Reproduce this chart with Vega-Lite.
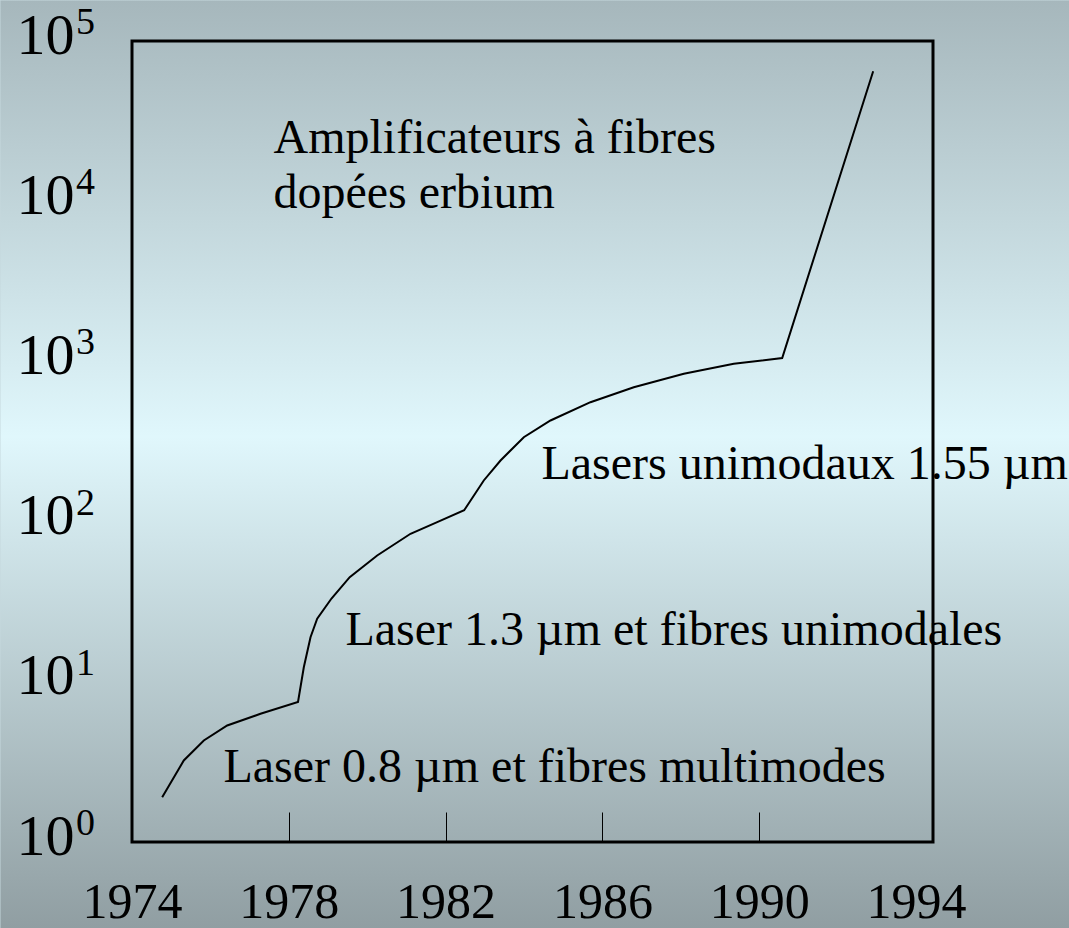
{
  "$schema": "https://vega.github.io/schema/vega-lite/v6.json",
  "width": 801,
  "height": 801,
  "padding": 0,
  "autosize": {"type": "pad"},
  "background": "#c5d8dd",
  "config": {"font": "Liberation Serif", "view": {"stroke": null}},
  "datasets": {
    "curve": [
      {"year": 1974.770, "value": 1.904},
      {"year": 1975.321, "value": 3.227},
      {"year": 1975.832, "value": 4.302},
      {"year": 1976.429, "value": 5.336},
      {"year": 1977.278, "value": 6.314},
      {"year": 1978.235, "value": 7.480},
      {"year": 1978.383, "value": 12.33},
      {"year": 1978.554, "value": 18.98},
      {"year": 1978.724, "value": 24.74},
      {"year": 1979.089, "value": 33.11},
      {"year": 1979.554, "value": 44.98},
      {"year": 1980.255, "value": 61.42},
      {"year": 1981.105, "value": 83.94},
      {"year": 1981.786, "value": 99.15},
      {"year": 1982.474, "value": 117.8},
      {"year": 1982.974, "value": 180.6},
      {"year": 1983.401, "value": 240.6},
      {"year": 1983.995, "value": 336.4},
      {"year": 1984.676, "value": 427.7},
      {"year": 1985.696, "value": 556.3},
      {"year": 1986.801, "value": 690.2},
      {"year": 1988.077, "value": 836.9},
      {"year": 1989.352, "value": 966.1},
      {"year": 1990.587, "value": 1050},
      {"year": 1992.908, "value": 64800}
    ],
    "labels": [
      {"year": 1977.610, "value": 19855, "text": "Amplificateurs à fibres"},
      {"year": 1977.610, "value": 9005, "text": "dopées erbium"},
      {"year": 1984.446, "value": 183.2, "text": "Lasers unimodaux 1.55 µm"},
      {"year": 1979.446, "value": 16.85, "text": "Laser 1.3 µm et fibres unimodales"},
      {"year": 1976.334, "value": 2.352, "text": "Laser 0.8 µm et fibres multimodes"}
    ],
    "exponents": [
      {"value": 1, "sup": "0"},
      {"value": 10, "sup": "1"},
      {"value": 100, "sup": "2"},
      {"value": 1000, "sup": "3"},
      {"value": 10000, "sup": "4"},
      {"value": 100000, "sup": "5"}
    ]
  },
  "layer": [
    {
      "data": {"values": [{}]},
      "mark": {
        "type": "rect",
        "clip": false,
        "strokeWidth": 0,
        "fill": {
          "gradient": "linear", "x1": 0, "y1": 0, "x2": 0, "y2": 1,
          "stops": [
            {"offset": 0, "color": "#a6b7bc"},
            {"offset": 0.47, "color": "#e0f7fc"},
            {"offset": 1, "color": "#909ea2"}
          ]
        }
      },
      "encoding": {
        "x": {"datum": 1970.645, "type": "quantitative", "scale": {"domain": [1974, 1994.434], "nice": false, "zero": false}},
        "x2": {"datum": 1997.916},
        "y": {"datum": 178950, "type": "quantitative", "scale": {"type": "log", "domain": [1, 100000], "nice": false}},
        "y2": {"datum": 0.2884}
      }
    },
    {
      "data": {"name": "curve"},
      "mark": {"type": "line", "color": "black", "strokeWidth": 2},
      "encoding": {
        "x": {
          "field": "year", "type": "quantitative",
          "scale": {"domain": [1974, 1994.434], "nice": false, "zero": false},
          "axis": {
            "zindex": 1,
            "title": null,
            "values": [1974, 1978, 1982, 1986, 1990, 1994],
            "format": "d",
            "domain": false,
            "grid": false,
            "tickSize": -30,
            "tickWidth": 1,
            "tickColor": {"condition": {"test": "datum.value == 1974 || datum.value == 1994", "value": "transparent"}, "value": "black"},
            "labelFontSize": 50,
            "labelFont": "Liberation Serif",
            "labelColor": "black",
            "labelPadding": 65,
            "labelFlush": false,
            "labelOverlap": false
          }
        },
        "y": {
          "field": "value", "type": "quantitative",
          "scale": {"type": "log", "domain": [1, 100000], "nice": false},
          "axis": {
            "zindex": 1,
            "title": null,
            "values": [1, 10, 100, 1000, 10000, 100000],
            "labelExpr": "'10'",
            "domain": false,
            "ticks": false,
            "grid": false,
            "labelFontSize": 58,
            "labelFont": "Liberation Serif",
            "labelColor": "black",
            "labelPadding": 58,
            "labelOffset": -5,
            "labelFlush": false,
            "labelOverlap": false
          }
        }
      }
    },
    {
      "data": {"name": "exponents"},
      "mark": {"type": "text", "align": "left", "baseline": "alphabetic", "fontSize": 38, "font": "Liberation Serif", "color": "black", "dx": -56, "dy": -7},
      "encoding": {
        "x": {"datum": 1974, "type": "quantitative", "scale": {"domain": [1974, 1994.434], "nice": false, "zero": false}},
        "y": {"field": "value", "type": "quantitative", "scale": {"type": "log", "domain": [1, 100000], "nice": false}},
        "text": {"field": "sup"}
      }
    },
    {
      "data": {"name": "labels"},
      "mark": {"type": "text", "align": "left", "baseline": "alphabetic", "fontSize": 48, "font": "Liberation Serif", "color": "black"},
      "encoding": {
        "x": {"field": "year", "type": "quantitative", "scale": {"domain": [1974, 1994.434], "nice": false, "zero": false}},
        "y": {"field": "value", "type": "quantitative", "scale": {"type": "log", "domain": [1, 100000], "nice": false}},
        "text": {"field": "text"}
      }
    },
    {
      "data": {"values": [{}]},
      "mark": {"type": "rect", "filled": false, "stroke": "black", "strokeWidth": 3},
      "encoding": {
        "x": {"datum": 1974, "type": "quantitative", "scale": {"domain": [1974, 1994.434], "nice": false, "zero": false}},
        "x2": {"datum": 1994.434},
        "y": {"datum": 1, "type": "quantitative", "scale": {"type": "log", "domain": [1, 100000], "nice": false}},
        "y2": {"datum": 100000}
      }
    }
  ]
}
